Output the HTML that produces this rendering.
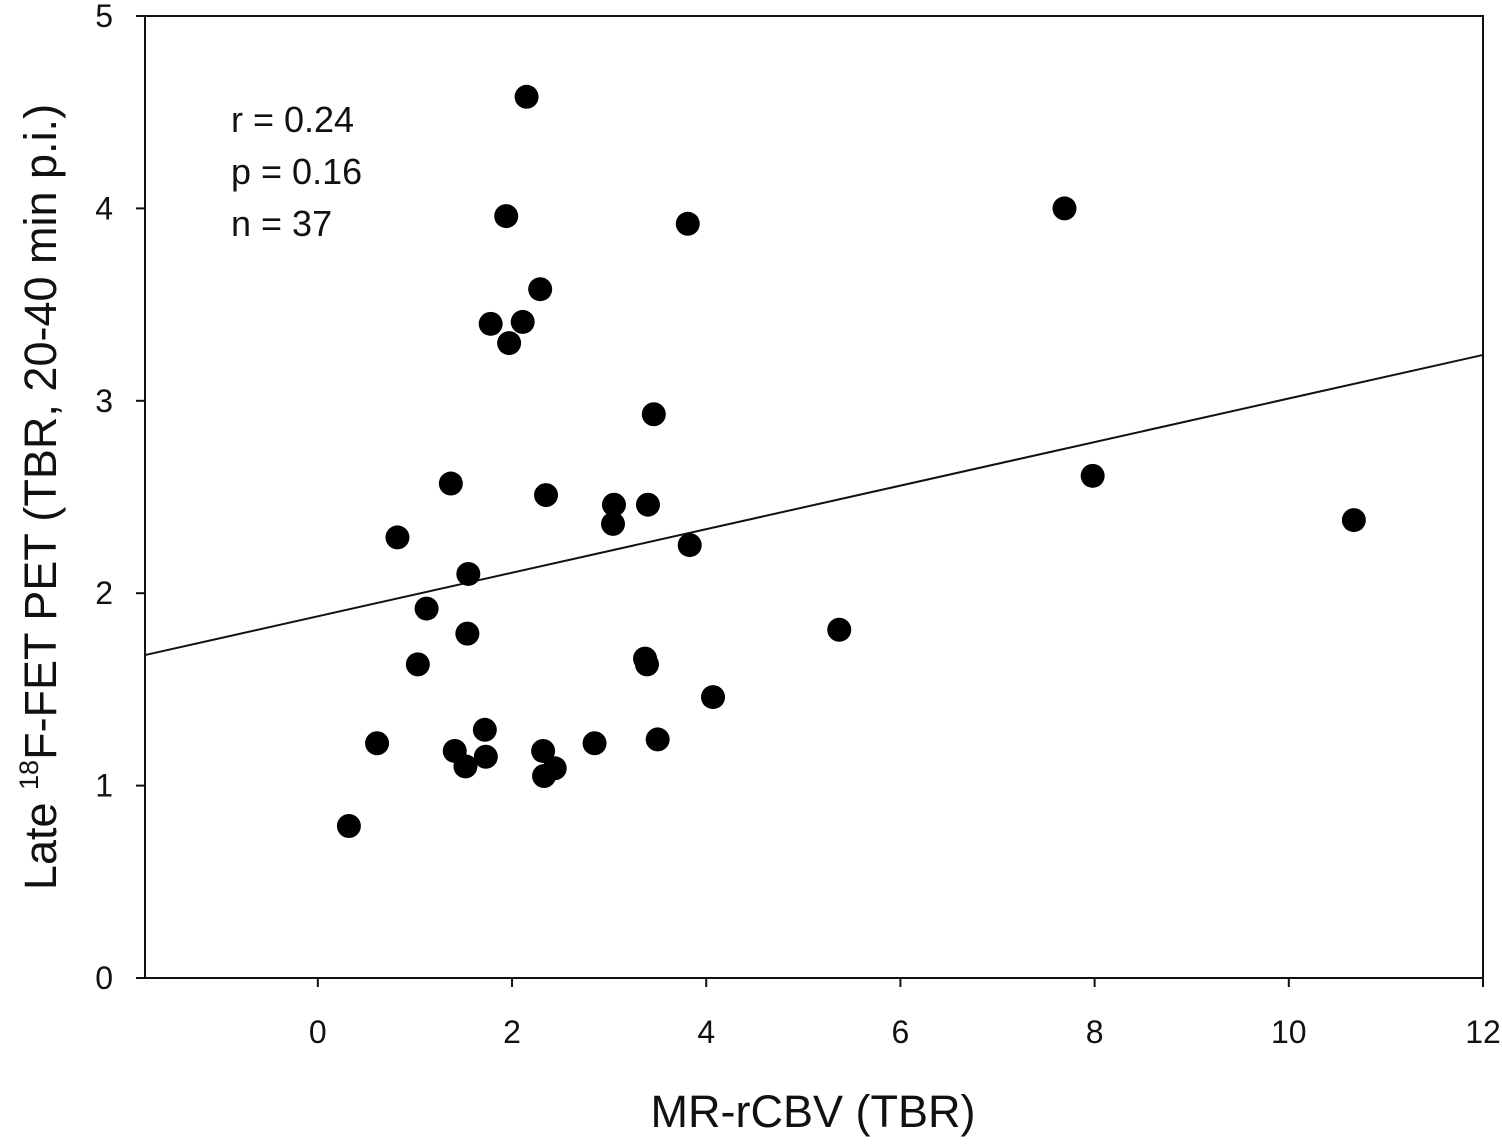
<!DOCTYPE html>
<html><head><meta charset="utf-8"><style>
html,body{margin:0;padding:0;background:#fff;}
svg text{font-family:"Liberation Sans",Arial,sans-serif;fill:#111;}
</style></head><body>
<svg id="chart" width="1502" height="1139" xmlns="http://www.w3.org/2000/svg">
<g id="axes"></g>
<g id="marks"></g>
<text x="231" y="132" font-size="36">r = 0.24</text>
<text x="231" y="184" font-size="36">p = 0.16</text>
<text x="231" y="236" font-size="36">n = 37</text>
<text x="813" y="1127" font-size="45" text-anchor="middle">MR-rCBV (TBR)</text>
<text transform="translate(56,497) rotate(-90)" font-size="45" text-anchor="middle">Late <tspan font-size="27" dy="-18">18</tspan><tspan dy="18">F-FET PET (TBR, 20-40 min p.i.)</tspan></text>
</svg>
<script>
const xVals=[0.32,0.61,0.82,1.03,1.12,1.37,1.41,1.52,1.55,1.54,1.72,1.73,1.78,1.94,1.97,2.11,2.15,2.29,2.32,2.33,2.35,2.44,2.85,3.05,3.04,3.37,3.39,3.40,3.46,3.50,3.81,3.83,4.07,5.37,7.69,7.98,10.67];
const yVals=[0.79,1.22,2.29,1.63,1.92,2.57,1.18,1.10,2.10,1.79,1.29,1.15,3.40,3.96,3.30,3.41,4.58,3.58,1.18,1.05,2.51,1.09,1.22,2.46,2.36,1.66,1.63,2.46,2.93,1.24,3.92,2.25,1.46,1.81,4.00,2.61,2.38];
const xTicks=[0,2,4,6,8,10,12];
const yTicks=[0,1,2,3,4,5];
const fitIntercept=1.88, fitSlope=0.1132;
const X0=145,X1=1483,Y0=978,Y1=16,xMin=-1.78,xMax=12,yMin=0,yMax=5;
const sx=v=>X0+(v-xMin)/(xMax-xMin)*(X1-X0);
const sy=v=>Y0-(v-yMin)/(yMax-yMin)*(Y0-Y1);
const NS="http://www.w3.org/2000/svg";
const axes=document.getElementById('axes'),marks=document.getElementById('marks');
function mk(tag,attrs,parent){const e=document.createElementNS(NS,tag);for(const k in attrs)e.setAttribute(k,attrs[k]);parent.appendChild(e);return e;}
const frame=mk('rect',{x:X0,y:Y1,width:X1-X0,height:Y0-Y1,fill:'none',stroke:'#111','stroke-width':2},axes);


xTicks.forEach(t=>{
  const l=mk('line',{x1:sx(t),x2:sx(t),y1:Y0,y2:Y0+9,stroke:'#111','stroke-width':2},axes);
  
  
  const tx=mk('text',{x:sx(t),y:1043,'font-size':32,'text-anchor':'middle'},axes);
  tx.textContent=t;
  
  
});
yTicks.forEach(t=>{
  const l=mk('line',{x1:X0-9,x2:X0,y1:sy(t),y2:sy(t),stroke:'#111','stroke-width':2},axes);
  
  
  const tx=mk('text',{x:113,y:sy(t)+11,'font-size':32,'text-anchor':'end'},axes);
  tx.textContent=t;
  
  
});
const fit=mk('line',{x1:sx(xMin),y1:sy(fitIntercept+fitSlope*xMin),x2:sx(xMax),y2:sy(fitIntercept+fitSlope*xMax),stroke:'#111','stroke-width':2},marks);


xVals.forEach((v,i)=>{
  const c=mk('circle',{cx:sx(v),cy:sy(yVals[i]),r:12,fill:'#000'},marks);
  
  
});
</script>
</body></html>
